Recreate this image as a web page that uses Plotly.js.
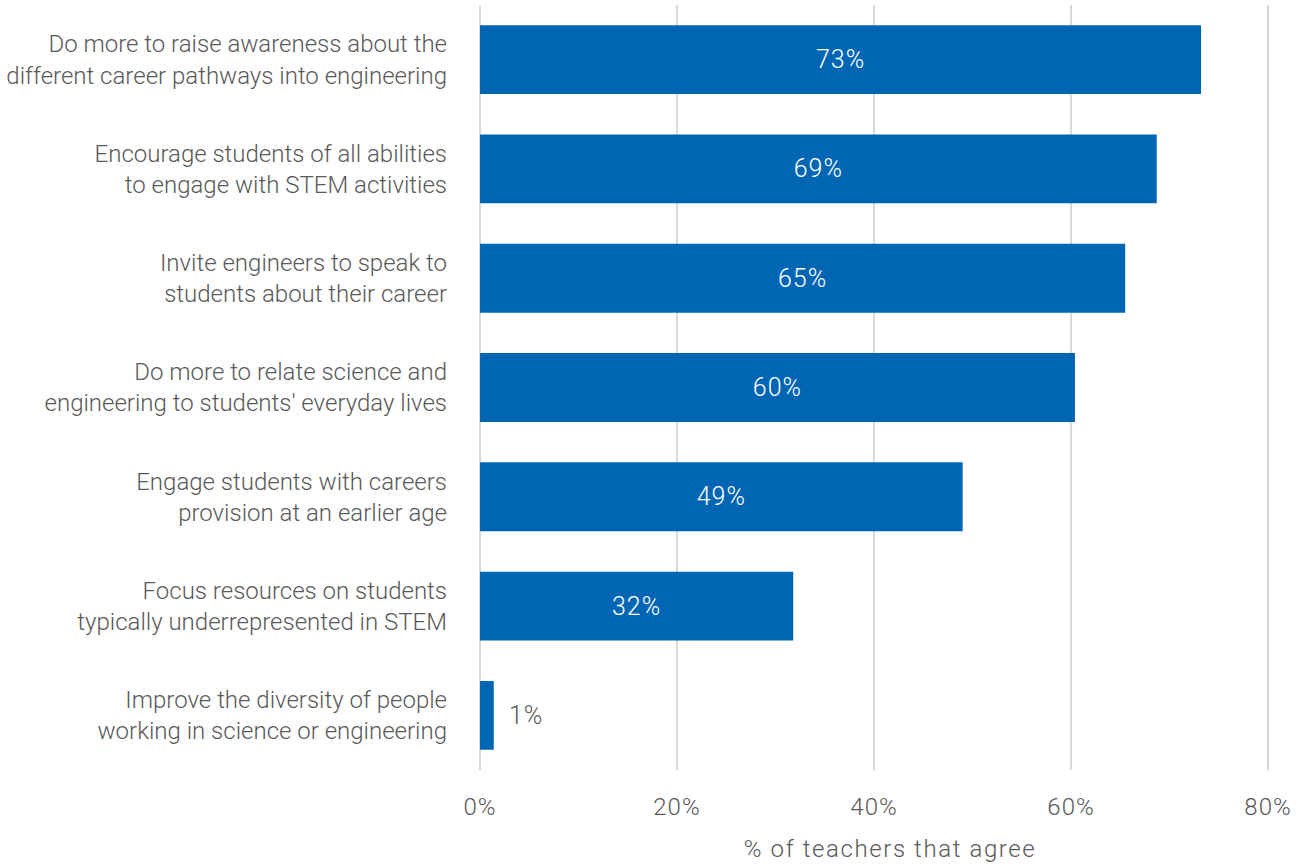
<!DOCTYPE html>
<html>
<head>
<meta charset="utf-8">
<script src="https://cdn.plot.ly/plotly-3.0.1.min.js"></script>
<style>
html,body{margin:0;padding:0;background:#fff;}
#chart{width:1310px;height:867px;}
#chart .xtick text{letter-spacing:1px;}
#chart .annotation-text{letter-spacing:1.6px;}
#chart text.bartext{letter-spacing:1px;}
</style>
</head>
<body>
<div id="chart"></div>
<script>
const categories = [
  "Do more to raise awareness about the<br>different career pathways into engineering",
  "Encourage students of all abilities<br>to engage with STEM activities",
  "Invite engineers to speak to<br>students about their career",
  "Do more to relate science and<br>engineering to students' everyday lives",
  "Engage students with careers<br>provision at an earlier age",
  "Focus resources on students<br>typically underrepresented in STEM",
  "Improve the diversity of people<br>working in science or engineering"
];
const values = [73.2, 68.7, 65.5, 60.4, 49.0, 31.8, 1.4];
const valueLabels = ["73%", "69%", "65%", "60%", "49%", "32%", "1%"];
const tickVals = [0, 20, 40, 60, 80];
const tickText = ["0%", "20%", "40%", "60%", "80%"];
const xTitle = "% of teachers that agree";

const gray = "#595959";
const fontFam = "Roboto, 'Open Sans', sans-serif";

const trace = {
  type: "bar",
  orientation: "h",
  x: values,
  y: categories,
  text: valueLabels,
  texttemplate: values.map(v => v > 10 ? "%{text}" : "\u00a0\u00a0%{text}"),
  textposition: values.map(v => v > 10 ? "inside" : "outside"),
  insidetextanchor: "middle",
  constraintext: "none",
  cliponaxis: false,
  insidetextfont: {family: fontFam, size: 25, color: "#ffffff", weight: 300},
  outsidetextfont: {family: fontFam, size: 25, color: gray, weight: 300},
  marker: {color: "#0066b3"},
  width: 0.63,
  hoverinfo: "none"
};

const layout = {
  width: 1310,
  height: 867,
  margin: {l: 478, r: 40, t: 5, b: 97},
  paper_bgcolor: "#ffffff",
  plot_bgcolor: "#ffffff",
  showlegend: false,
  font: {family: fontFam, color: gray, weight: 300},
  xaxis: {
    range: [-0.2, 80.2],
    tickvals: tickVals,
    ticktext: tickText,
    showgrid: true,
    gridcolor: "#d9d9d9",
    gridwidth: 1.5,
    zeroline: true,
    zerolinecolor: "#d9d9d9",
    zerolinewidth: 1.5,
    showline: false,
    ticks: "",
    ticklabelstandoff: 20,
    tickfont: {family: fontFam, size: 24, color: gray, weight: 300},
    fixedrange: true
  },
  yaxis: {
    autorange: "reversed",
    showgrid: false,
    zeroline: false,
    showline: false,
    ticks: "",
    ticklabelstandoff: 30,
    tickfont: {family: fontFam, size: 24, color: gray, weight: 300},
    fixedrange: true
  },
  annotations: [{
    text: xTitle,
    xref: "paper", yref: "paper",
    x: 0.5, y: 0,
    xanchor: "center", yanchor: "middle",
    xshift: 16, yshift: -79,
    showarrow: false,
    font: {family: fontFam, size: 24, color: gray, weight: 300}
  }]
};

Plotly.newPlot("chart", [trace], layout, {displayModeBar: false, staticPlot: true});
</script>
</body>
</html>
